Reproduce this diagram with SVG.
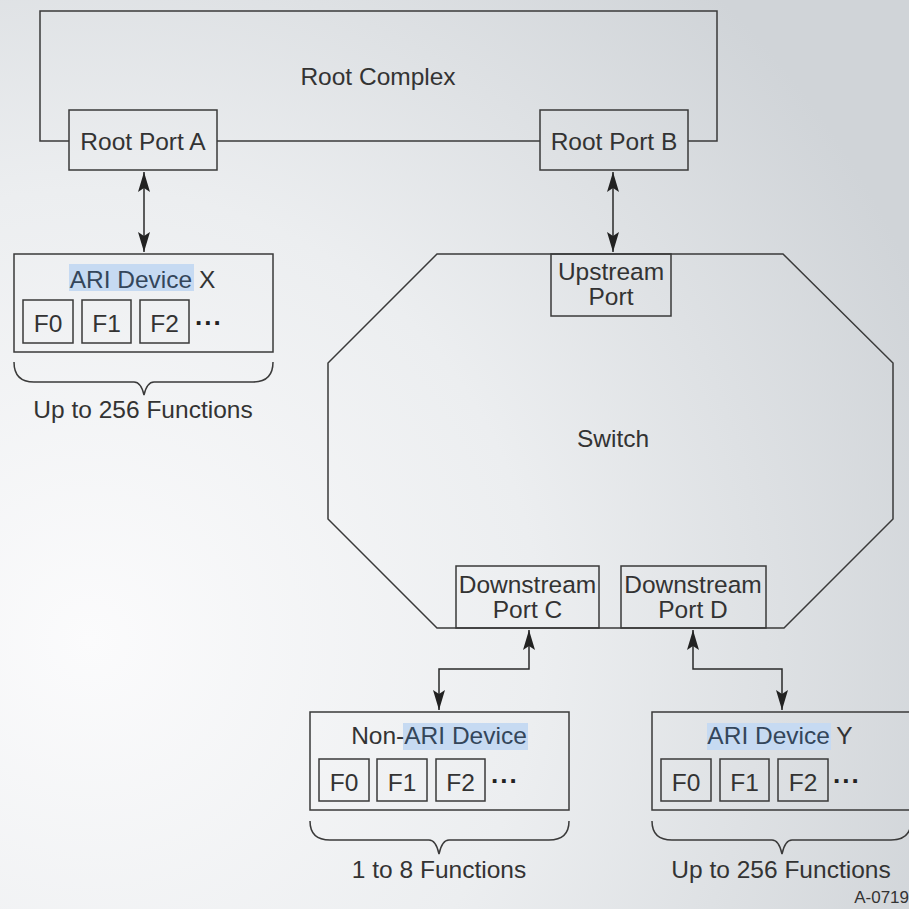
<svg xmlns="http://www.w3.org/2000/svg" width="909" height="909" viewBox="0 0 909 909">
  <defs>
    <radialGradient id="bg" gradientUnits="userSpaceOnUse" cx="90" cy="640" r="900">
      <stop offset="0" stop-color="#fbfbfc"/>
      <stop offset="0.5" stop-color="#eceef0"/>
      <stop offset="1" stop-color="#d0d4d8"/>
    </radialGradient>
    <marker id="head" viewBox="0 0 20 12" refX="20" refY="6" markerWidth="20" markerHeight="12" markerUnits="userSpaceOnUse" orient="auto-start-reverse">
      <path d="M0,0 L20,6 L0,12 L4,6 Z" fill="#222"/>
    </marker>
    <style>
      .ln { fill: none; stroke: #3a3a3a; stroke-width: 1.5; }
      .box { fill: none; stroke: #3a3a3a; stroke-width: 1.5; }
      .txt { font-family: "Liberation Sans", Arial, sans-serif; font-size: 24.5px; fill: #333; text-anchor: middle; }
      .hl { fill: #c6daf2; }
      .hlt { fill: #34465a; }
      .dots { font-family: "Liberation Sans", Arial, sans-serif; font-size: 26px; font-weight: bold; fill: #222; letter-spacing: 2px; }
      .conn { fill: none; stroke: #2a2a2a; stroke-width: 1.5; }
    </style>
  </defs>

  <rect width="909" height="909" fill="url(#bg)"/>

  <!-- Root complex outline -->
  <g id="root-complex">
    <path class="ln" d="M69,141 H40 V11 H717 V141 H688"/>
    <line class="ln" x1="217" y1="141" x2="540" y2="141"/>
    <text class="txt" x="378" y="85">Root Complex</text>
  </g>

  <g id="root-port-a">
    <rect class="box" x="69" y="110" width="148" height="60"/>
    <text class="txt" x="143" y="150">Root Port A</text>
  </g>

  <g id="root-port-b">
    <rect class="box" x="540" y="110" width="148" height="60"/>
    <text class="txt" x="614" y="150">Root Port B</text>
  </g>

  <!-- Switch -->
  <g id="switch">
    <polygon class="ln" points="437,254 783,254 893,363 893,519 784,628 437,628 328,519 328,363"/>
    <text class="txt" x="613" y="447">Switch</text>
  </g>

  <g id="upstream-port">
    <rect class="box" x="551" y="254" width="120" height="62"/>
    <text class="txt" x="611" y="280">Upstream</text>
    <text class="txt" x="611" y="305">Port</text>
  </g>

  <g id="downstream-port-c">
    <rect class="box" x="456" y="566" width="143" height="62"/>
    <text class="txt" x="527.5" y="593">Downstream</text>
    <text class="txt" x="527.5" y="618">Port C</text>
  </g>

  <g id="downstream-port-d">
    <rect class="box" x="621" y="566" width="145" height="62"/>
    <text class="txt" x="693" y="593">Downstream</text>
    <text class="txt" x="693" y="618">Port D</text>
  </g>

  <!-- ARI Device X -->
  <g id="ari-device-x">
    <rect class="box" x="14" y="254" width="259" height="98"/>
    <rect class="hl" x="69" y="264" width="125" height="27"/>
    <text class="txt" x="142.5" y="288"><tspan class="hlt">ARI Device</tspan> X</text>
    <rect class="box" x="23" y="300" width="50" height="43"/>
    <rect class="box" x="82" y="300" width="49" height="43"/>
    <rect class="box" x="140" y="300" width="49" height="43"/>
    <text class="txt" x="48" y="332">F0</text>
    <text class="txt" x="106.5" y="332">F1</text>
    <text class="txt" x="164.5" y="332">F2</text>
    <text class="dots" x="195" y="325">...</text>
    <path class="ln" d="M14,362 Q14,382 34,382 H134 Q141,382 144,395 Q147,382 154,382 H253 Q273,382 273,362"/>
    <text class="txt" x="143" y="418">Up to 256 Functions</text>
  </g>

  <!-- Non-ARI Device -->
  <g id="non-ari-device">
    <rect class="box" x="310" y="712" width="259" height="98"/>
    <rect class="hl" x="403" y="723" width="125" height="27"/>
    <text class="txt" x="439" y="744">Non-<tspan class="hlt">ARI Device</tspan></text>
    <rect class="box" x="319" y="759" width="50" height="42"/>
    <rect class="box" x="377" y="759" width="50" height="42"/>
    <rect class="box" x="436" y="759" width="49" height="42"/>
    <text class="txt" x="344" y="791">F0</text>
    <text class="txt" x="402" y="791">F1</text>
    <text class="txt" x="460.5" y="791">F2</text>
    <text class="dots" x="491" y="783">...</text>
    <path class="ln" d="M310,821 Q310,840 330,840 H429 Q436,840 439,854 Q442,840 449,840 H549 Q569,840 569,821"/>
    <text class="txt" x="439" y="878">1 to 8 Functions</text>
  </g>

  <!-- ARI Device Y -->
  <g id="ari-device-y">
    <rect class="box" x="652" y="712" width="259" height="98"/>
    <rect class="hl" x="707" y="723" width="124" height="27"/>
    <text class="txt" x="780" y="744"><tspan class="hlt">ARI Device</tspan> Y</text>
    <rect class="box" x="661" y="759" width="50" height="42"/>
    <rect class="box" x="720" y="759" width="49" height="42"/>
    <rect class="box" x="778" y="759" width="50" height="42"/>
    <text class="txt" x="686" y="791">F0</text>
    <text class="txt" x="744.5" y="791">F1</text>
    <text class="txt" x="803" y="791">F2</text>
    <text class="dots" x="833" y="783">...</text>
    <path class="ln" d="M652,821 Q652,840 672,840 H772 Q779,840 782,854 Q785,840 792,840 H891 Q911,840 911,821"/>
    <text class="txt" x="781" y="878">Up to 256 Functions</text>
  </g>

  <g id="figure-id">
    <text class="txt" x="909" y="903" style="font-size:17px;text-anchor:end">A-0719</text>
  </g>

  <!-- Connectors -->
  <g id="connectors">
    <line class="conn" x1="144" y1="172" x2="144" y2="252" marker-start="url(#head)" marker-end="url(#head)"/>
    <line class="conn" x1="613" y1="172" x2="613" y2="252" marker-start="url(#head)" marker-end="url(#head)"/>
    <path class="conn" d="M529,630 V669 H439 V710" marker-start="url(#head)" marker-end="url(#head)"/>
    <path class="conn" d="M693,630 V669 H782 V710" marker-start="url(#head)" marker-end="url(#head)"/>
  </g>
</svg>
